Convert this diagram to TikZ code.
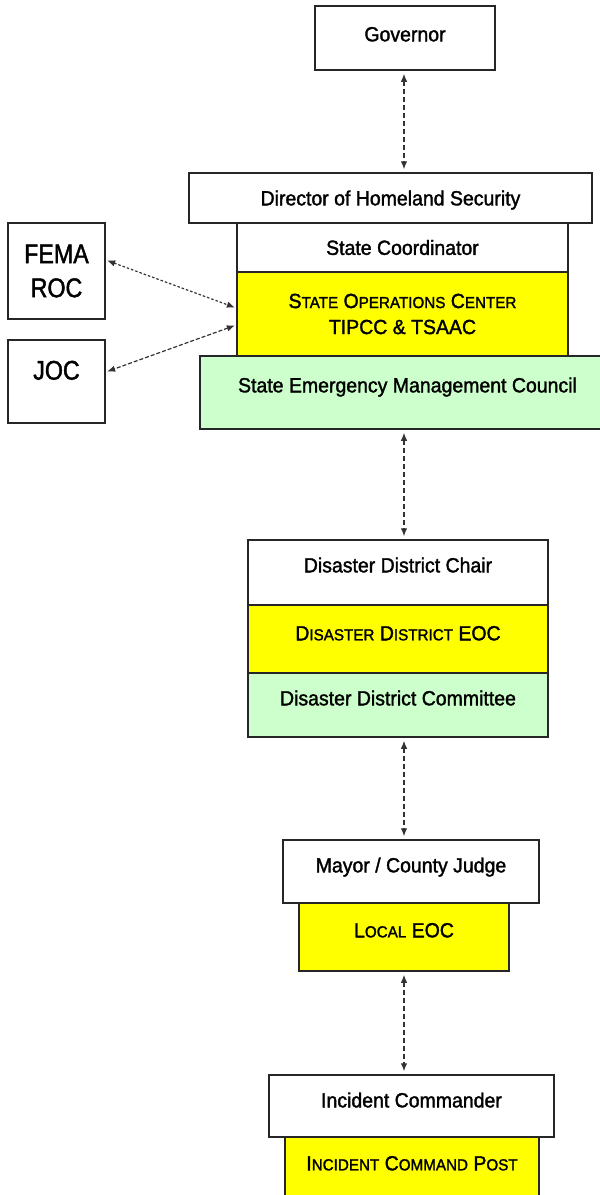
\documentclass[tikz,border=0pt]{standalone}
\usepackage{fontspec}
\setmainfont{Liberation Sans}[FakeStretch=0.95,FakeBold=1.6]
\newfontfamily\bigfont{Liberation Sans}[FakeStretch=0.86,FakeBold=1.6]
\usepackage{tikz}
\usetikzlibrary{arrows.meta}

\definecolor{councilgreen}{HTML}{CCFFCC}
\definecolor{eocyellow}{HTML}{FFFF00}
\newcommand\fakesc[2]{#1{\fontsize{16}{16}\selectfont #2}}

\begin{document}
\begin{tikzpicture}[x=1pt,y=-1pt,>={Latex[length=8pt,width=6.5pt]},
	  white box/.style={draw=black!85,line width=1.5pt,fill=white,inner sep=0pt,
	    font=\fontsize{20.5}{25}\selectfont,text height=14.7pt,text depth=0pt},
	  yellow box/.style={white box,fill=eocyellow},
	  green box/.style={white box,fill=councilgreen},
	  lift/.style={text depth=#1},
	  link/.style={<->,line width=1.2pt,draw=black!80,dash pattern=on 4.5pt off 3.5pt,
	    shorten >=3pt,shorten <=3pt}]

	\path[use as bounding box,fill=white] (0,0) rectangle (600,1195);

	% state level
		\node[white box,minimum width=180pt,minimum height=64pt,lift=8pt] (gov) at (405,38) {Governor};
		\node[white box,minimum width=403pt,minimum height=50pt] (dhs) at (390.5,198) {Director of Homeland Security};
		\node[white box,minimum width=331pt,minimum height=49pt,lift=-4pt] (coord) at (402.5,247.5) {State Coordinator};
		\node[yellow box,minimum width=331pt,minimum height=84pt,align=center,text height=,text depth=] (soc) at (402.5,314)
			{\fakesc{S}{TATE} \fakesc{O}{PERATIONS} \fakesc{C}{ENTER}\\[1pt] TIPCC \& TSAAC};
		\node[green box,minimum width=415pt,minimum height=73pt,lift=15pt] (semc) at (407.5,392.5) {State Emergency Management Council};
		\node[white box,minimum width=97pt,minimum height=96pt,align=center,text height=,text depth=,
			font=\bigfont\fontsize{27}{34}\selectfont] (fema) at (56.5,271) {FEMA\\ROC};
		\node[white box,minimum width=97pt,minimum height=83pt,text height=19.3pt,text depth=23pt,
			font=\bigfont\fontsize{27}{34}\selectfont] (joc) at (56.5,381.5) {JOC};

	% district level
		\node[white box,minimum width=300pt,minimum height=65pt,lift=15pt] (ddchair) at (398,572.5) {Disaster District Chair};
		\node[yellow box,minimum width=300pt,minimum height=68pt,lift=12pt] (ddeoc) at (398,639)
			{\fakesc{D}{ISASTER} \fakesc{D}{ISTRICT} EOC};
		\node[green box,minimum width=300pt,minimum height=64pt,lift=14pt] (ddc) at (398,705) {Disaster District Committee};

	% local level
		\node[white box,minimum width=256pt,minimum height=63pt,lift=13pt] (mayor) at (411,871.5) {Mayor / County Judge};
		\node[yellow box,minimum width=210pt,minimum height=68pt,lift=14pt] (leoc) at (404,937) {\fakesc{L}{OCAL} EOC};

	% incident level
		\node[white box,minimum width=285pt,minimum height=62pt,lift=12pt] (ic) at (411.5,1106) {Incident Commander};
		\node[yellow box,minimum width=254pt,minimum height=73pt,lift=21pt] (icp) at (412,1173.5)
			{\fakesc{I}{NCIDENT} \fakesc{C}{OMMAND} \fakesc{P}{OST}};

	\coordinate (spine) at (404,0);
	\draw[link] (spine |- gov.south) -- (spine |- dhs.north);
	\draw[link] (spine |- semc.south) -- (spine |- ddchair.north);
	\draw[link] (spine |- ddc.south) -- (spine |- mayor.north);
	\draw[link] (spine |- leoc.south) -- (spine |- ic.north);
	\draw[link,dash pattern=on 2.5pt off 2pt,shorten >=1.5pt,shorten <=1.5pt]
		([yshift=11pt]fema.east) -- ([yshift=6pt]soc.west);
	\draw[link,dash pattern=on 4pt off 2pt,shorten >=1.5pt,shorten <=1.5pt]
		([yshift=-11pt]soc.west) -- ([yshift=9.5pt]joc.east);

\end{tikzpicture}
\end{document}
